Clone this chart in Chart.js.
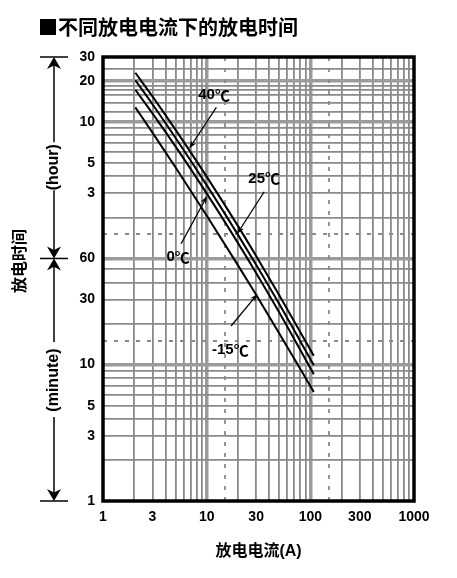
<!DOCTYPE html>
<html>
<head>
<meta charset="utf-8">
<script src="https://cdn.jsdelivr.net/npm/chart.js@4.4.1/dist/chart.umd.min.js"></script>
<style>
  html, body { margin: 0; padding: 0; background: #fff; }
  canvas { display: block; }
</style>
</head>
<body>
<canvas id="grafico" width="457" height="578"></canvas>
<script>
// ==========================================
// DADOS: corrente de descarga (A) x tempo de descarga (min)
// ==========================================
const correntes = [2.05, 3, 5, 10, 20, 30, 50, 108];
const tempo40 = [1380, 925, 528, 239, 104, 62.6, 32.4, 11.6];
const tempo25 = [1216, 811, 461, 207, 89.7, 54, 27.9, 9.9];
const tempo0 = [1035, 695, 398, 180, 78.1, 47, 24.2, 8.5];
const tempoM15 = [769, 502, 280, 124, 53.6, 32.5, 17, 6.3];

// linhas de grade (eixo y em minutos: 60 min = 1 h)
const gradeX = [1, 2, 3, 4, 5, 6, 7, 8, 9, 10, 20, 30, 40, 50, 60, 70, 80, 90, 100,
  200, 300, 400, 500, 600, 700, 800, 900, 1000];
const gradeY = [1, 2, 3, 4, 5, 6, 7, 8, 9, 10, 20, 30, 40, 50, 60, 120, 180, 240, 300,
  360, 420, 480, 540, 600, 715, 833, 954, 1031, 1111, 1200, 1470, 1800];
const gradeGrossaX = [10, 100];
const gradeGrossaY = [10, 60, 600, 1200];
const tracejadoX = [15, 150];
const tracejadoY = [15, 90];

const rotulosX = { 1: "1", 3: "3", 10: "10", 30: "30", 100: "100", 300: "300", 1000: "1000" };
const rotulosY = { 1: "1", 3: "3", 5: "5", 10: "10", 30: "30", 60: "60",
  180: "3", 300: "5", 600: "10", 1200: "20", 1800: "30" };

// rótulos das curvas: temperatura, posição do texto, início e ponta da seta (A, min)
const rotulosCurvas = [
  { temp: "40", pos: [11.8, 942], de: [12.4, 769], ate: [6.78, 384] },
  { temp: "25", pos: [35.9, 231], de: [35.9, 185], ate: [19.7, 91] },
  { temp: "0", pos: [5.3, 61.7], de: [5.67, 76.9], ate: [10.1, 172] },
  { temp: "-15", pos: [16.9, 12.8], de: [17.2, 19.2], ate: [31, 33] }
];

const FONTE = '"Liberation Sans", "Noto Sans CJK SC", sans-serif';
const FONTE_CJK = '"Noto Sans CJK SC", sans-serif';

function serie(ys) {
  return {
    data: correntes.map((x, i) => ({ x, y: ys[i] })),
    borderColor: "#000",
    borderWidth: 2,
    pointRadius: 0,
    cubicInterpolationMode: "monotone",
    fill: false
  };
}

function seta(ctx, x1, y1, x2, y2, tam, larg) {
  const ang = Math.atan2(y2 - y1, x2 - x1);
  const c = Math.cos(ang), s = Math.sin(ang);
  ctx.beginPath();
  ctx.moveTo(x1, y1);
  ctx.lineTo(x2 - c * tam * 0.6, y2 - s * tam * 0.6);
  ctx.stroke();
  ctx.beginPath();
  ctx.moveTo(x2, y2);
  ctx.lineTo(x2 - c * tam + s * larg, y2 - s * tam - c * larg);
  ctx.lineTo(x2 - c * tam * 0.7, y2 - s * tam * 0.7);
  ctx.lineTo(x2 - c * tam - s * larg, y2 - s * tam + c * larg);
  ctx.closePath();
  ctx.fill();
}

const desenhos = {
  id: "desenhos",
  beforeDatasetsDraw(chart) {
    const { ctx, chartArea: a, scales: { x, y } } = chart;
    ctx.save();
    ctx.strokeStyle = "#8a8a8a";
    ctx.lineWidth = 1.8;
    ctx.setLineDash([4, 7]);
    tracejadoX.forEach(v => {
      const px = Math.round(x.getPixelForValue(v));
      ctx.beginPath(); ctx.moveTo(px, a.top); ctx.lineTo(px, a.bottom); ctx.stroke();
    });
    tracejadoY.forEach(v => {
      const py = Math.round(y.getPixelForValue(v));
      ctx.beginPath(); ctx.moveTo(a.left, py); ctx.lineTo(a.right, py); ctx.stroke();
    });
    ctx.restore();
  },
  afterDatasetsDraw(chart) {
    const { ctx, chartArea: a } = chart;
    ctx.save();
    ctx.strokeStyle = "#000";
    ctx.lineWidth = 3.5;
    ctx.strokeRect(a.left, a.top, a.right - a.left, a.bottom - a.top);
    ctx.restore();
  },
  afterDraw(chart) {
    const { ctx, scales: { x, y } } = chart;
    ctx.save();
    ctx.fillStyle = "#000";
    ctx.strokeStyle = "#000";

    // título
    ctx.font = "bold 20px " + FONTE_CJK;
    ctx.textAlign = "left";
    ctx.textBaseline = "middle";
    ctx.fillText("■不同放电电流下的放电时间", 38, 27);

    // título do eixo y
    ctx.save();
    ctx.translate(19, 261);
    ctx.rotate(-Math.PI / 2);
    ctx.textAlign = "center";
    ctx.font = "bold 16px " + FONTE_CJK;
    ctx.fillText("放电时间", 0, 0);
    ctx.restore();

    // escala hora / minuto com setas
    const xs = 54;
    const yTopo = y.getPixelForValue(1800);
    const yMeio = y.getPixelForValue(60);
    const yBase = y.getPixelForValue(1);
    const yHora = y.getPixelForValue(280);
    const yMin = y.getPixelForValue(7.7);
    ctx.lineWidth = 1.5;
    [yTopo, yMeio, yBase].forEach(py => {
      ctx.beginPath(); ctx.moveTo(40, py); ctx.lineTo(68, py); ctx.stroke();
    });
    seta(ctx, xs, yHora - 25, xs, yTopo, 12, 7);
    seta(ctx, xs, yHora + 23, xs, yMeio, 12, 7);
    seta(ctx, xs, yMin - 38, xs, yMeio, 12, 7);
    seta(ctx, xs, yMin + 37, xs, yBase, 12, 7);
    ctx.font = "bold 16px " + FONTE;
    ctx.textAlign = "center";
    [["(hour)", yHora], ["(minute)", yMin]].forEach(([t, py]) => {
      ctx.save();
      ctx.translate(xs, py);
      ctx.rotate(-Math.PI / 2);
      ctx.fillText(t, 0, 0);
      ctx.restore();
    });

    // rótulos das curvas (número em Arial, ℃ em fonte CJK)
    ctx.lineWidth = 1.3;
    ctx.textAlign = "left";
    rotulosCurvas.forEach(r => {
      const fNum = "bold 15px " + FONTE, fGrau = "bold 15px " + FONTE_CJK;
      ctx.font = fNum;
      const w1 = ctx.measureText(r.temp).width;
      ctx.font = fGrau;
      const w2 = ctx.measureText("℃").width;
      const cx = x.getPixelForValue(r.pos[0]), cy = y.getPixelForValue(r.pos[1]);
      const x0 = cx - (w1 + w2) / 2;
      ctx.font = fNum;
      ctx.fillText(r.temp, x0, cy);
      ctx.font = fGrau;
      ctx.fillText("℃", x0 + w1, cy);
      seta(ctx, x.getPixelForValue(r.de[0]), y.getPixelForValue(r.de[1]),
        x.getPixelForValue(r.ate[0]), y.getPixelForValue(r.ate[1]), 8, 3);
    });
    ctx.restore();
  }
};

const corGrade = (lista) => c => lista.includes(c.tick.value) ? "#9b9b9b" : "#8a8a8a";
const larguraGrade = (lista) => c => lista.includes(c.tick.value) ? 3.5 : 1.8;

new Chart(document.getElementById("grafico"), {
  type: "line",
  data: {
    datasets: [serie(tempo40), serie(tempo25), serie(tempo0), serie(tempoM15)]
  },
  options: {
    responsive: false,
    animation: false,
    layout: { padding: { left: 73, right: 43, top: 57, bottom: 0 } },
    plugins: { legend: { display: false }, tooltip: { enabled: false } },
    scales: {
      x: {
        type: "logarithmic",
        min: 1,
        max: 1000,
        afterBuildTicks: s => { s.ticks = gradeX.map(v => ({ value: v })); },
        afterFit: s => { s.height = 77; },
        grid: { color: corGrade(gradeGrossaX), lineWidth: larguraGrade(gradeGrossaX), drawTicks: false },
        border: { display: false },
        ticks: {
          autoSkip: false, maxRotation: 0, padding: 8, color: "#000",
          font: { family: FONTE, size: 14, weight: "bold" },
          callback: v => rotulosX[v] || ""
        },
        title: {
          display: true, text: "放电电流(A)", color: "#000",
          font: { family: FONTE, size: 16, weight: "bold" },
          padding: { top: 0, bottom: 17 }
        }
      },
      y: {
        type: "logarithmic",
        min: 1,
        max: 1800,
        afterBuildTicks: s => { s.ticks = gradeY.map(v => ({ value: v })); },
        afterFit: s => { s.width = 30; },
        grid: { color: corGrade(gradeGrossaY), lineWidth: larguraGrade(gradeGrossaY), drawTicks: false },
        border: { display: false },
        ticks: {
          autoSkip: false, padding: 8, color: "#000",
          font: { family: FONTE, size: 14, weight: "bold" },
          callback: v => rotulosY[v] || ""
        }
      }
    }
  },
  plugins: [desenhos]
});
</script>
</body>
</html>
